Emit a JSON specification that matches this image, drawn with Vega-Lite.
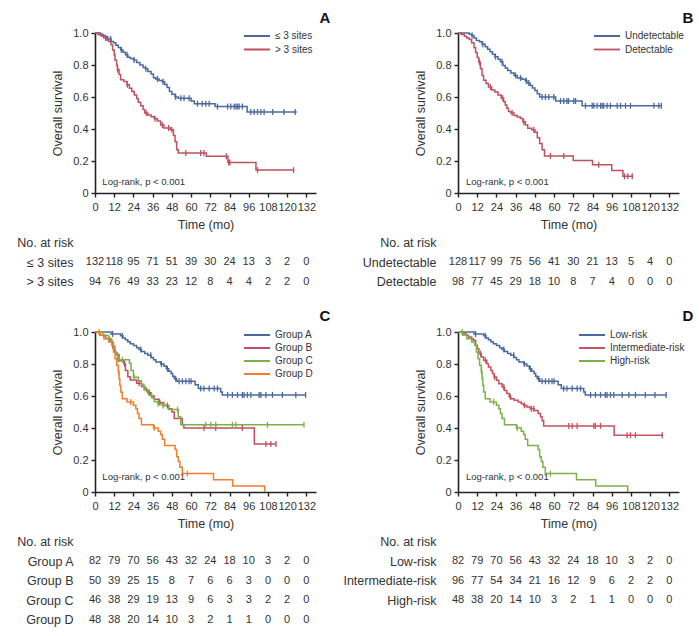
{
"$schema": "https://vega.github.io/schema/vega-lite/v6.json",
"padding": {"left": 16, "top": 10, "right": 3, "bottom": 3},
"background": "white",
"config": {
  "view": {"stroke": null},
  "font": "Liberation Sans, Arial, sans-serif",
  "axis": {"labelFont": "Liberation Sans, Arial, sans-serif", "titleFont": "Liberation Sans, Arial, sans-serif", "labelColor": "#333", "titleColor": "#333", "titleFontWeight": "normal", "domainColor": "#222", "domainWidth": 1.6, "tickColor": "#222", "tickWidth": 1.4, "tickSize": 4, "grid": false, "labelFontSize": 11, "titleFontSize": 12.5},
  "legend": {"labelFont": "Liberation Sans, Arial, sans-serif", "labelFontSize": 10, "labelColor": "#333"},
  "text": {"font": "Liberation Sans, Arial, sans-serif", "color": "#333"}
},
"datasets": {
"steps": [
{"p":"A","g":"≤ 3 sites","t":0,"s":1},{"p":"A","g":"≤ 3 sites","t":3.5,"s":0.992},{"p":"A","g":"≤ 3 sites","t":5,"s":0.985},{"p":"A","g":"≤ 3 sites","t":6.5,"s":0.977},{"p":"A","g":"≤ 3 sites","t":8,"s":0.962},{"p":"A","g":"≤ 3 sites","t":10,"s":0.947},{"p":"A","g":"≤ 3 sites","t":11.5,"s":0.939},{"p":"A","g":"≤ 3 sites","t":13,"s":0.924},{"p":"A","g":"≤ 3 sites","t":14.5,"s":0.909},{"p":"A","g":"≤ 3 sites","t":16,"s":0.894},{"p":"A","g":"≤ 3 sites","t":17.5,"s":0.879},{"p":"A","g":"≤ 3 sites","t":19,"s":0.864},{"p":"A","g":"≤ 3 sites","t":20.5,"s":0.848},{"p":"A","g":"≤ 3 sites","t":22,"s":0.84},{"p":"A","g":"≤ 3 sites","t":24,"s":0.832},{"p":"A","g":"≤ 3 sites","t":26,"s":0.816},{"p":"A","g":"≤ 3 sites","t":28,"s":0.8},{"p":"A","g":"≤ 3 sites","t":30,"s":0.784},{"p":"A","g":"≤ 3 sites","t":31.5,"s":0.776},{"p":"A","g":"≤ 3 sites","t":33,"s":0.76},{"p":"A","g":"≤ 3 sites","t":35,"s":0.744},{"p":"A","g":"≤ 3 sites","t":36.5,"s":0.72},{"p":"A","g":"≤ 3 sites","t":38,"s":0.712},{"p":"A","g":"≤ 3 sites","t":40,"s":0.703},{"p":"A","g":"≤ 3 sites","t":42,"s":0.695},{"p":"A","g":"≤ 3 sites","t":43.5,"s":0.678},{"p":"A","g":"≤ 3 sites","t":45,"s":0.66},{"p":"A","g":"≤ 3 sites","t":46.5,"s":0.635},{"p":"A","g":"≤ 3 sites","t":48,"s":0.617},{"p":"A","g":"≤ 3 sites","t":50,"s":0.6},{"p":"A","g":"≤ 3 sites","t":52,"s":0.592},{"p":"A","g":"≤ 3 sites","t":60,"s":0.575},{"p":"A","g":"≤ 3 sites","t":62,"s":0.558},{"p":"A","g":"≤ 3 sites","t":75,"s":0.54},{"p":"A","g":"≤ 3 sites","t":95,"s":0.507},{"p":"A","g":"≤ 3 sites","t":126,"s":0.507},
{"p":"A","g":"> 3 sites","t":0,"s":1},{"p":"A","g":"> 3 sites","t":2,"s":0.989},{"p":"A","g":"> 3 sites","t":4,"s":0.979},{"p":"A","g":"> 3 sites","t":5.5,"s":0.968},{"p":"A","g":"> 3 sites","t":7,"s":0.957},{"p":"A","g":"> 3 sites","t":8.5,"s":0.947},{"p":"A","g":"> 3 sites","t":10,"s":0.926},{"p":"A","g":"> 3 sites","t":11,"s":0.894},{"p":"A","g":"> 3 sites","t":12,"s":0.862},{"p":"A","g":"> 3 sites","t":12.5,"s":0.83},{"p":"A","g":"> 3 sites","t":13.5,"s":0.8},{"p":"A","g":"> 3 sites","t":14,"s":0.77},{"p":"A","g":"> 3 sites","t":15,"s":0.74},{"p":"A","g":"> 3 sites","t":16,"s":0.708},{"p":"A","g":"> 3 sites","t":18,"s":0.697},{"p":"A","g":"> 3 sites","t":20,"s":0.676},{"p":"A","g":"> 3 sites","t":21.5,"s":0.655},{"p":"A","g":"> 3 sites","t":23,"s":0.634},{"p":"A","g":"> 3 sites","t":24.5,"s":0.613},{"p":"A","g":"> 3 sites","t":26,"s":0.59},{"p":"A","g":"> 3 sites","t":27,"s":0.567},{"p":"A","g":"> 3 sites","t":28.5,"s":0.545},{"p":"A","g":"> 3 sites","t":30,"s":0.522},{"p":"A","g":"> 3 sites","t":31,"s":0.5},{"p":"A","g":"> 3 sites","t":33,"s":0.488},{"p":"A","g":"> 3 sites","t":35,"s":0.476},{"p":"A","g":"> 3 sites","t":37,"s":0.464},{"p":"A","g":"> 3 sites","t":39,"s":0.45},{"p":"A","g":"> 3 sites","t":41,"s":0.425},{"p":"A","g":"> 3 sites","t":43,"s":0.406},{"p":"A","g":"> 3 sites","t":47,"s":0.395},{"p":"A","g":"> 3 sites","t":49,"s":0.36},{"p":"A","g":"> 3 sites","t":50,"s":0.32},{"p":"A","g":"> 3 sites","t":51,"s":0.27},{"p":"A","g":"> 3 sites","t":52,"s":0.25},{"p":"A","g":"> 3 sites","t":69.5,"s":0.23},{"p":"A","g":"> 3 sites","t":83,"s":0.19},{"p":"A","g":"> 3 sites","t":100.5,"s":0.143},{"p":"A","g":"> 3 sites","t":124,"s":0.143},
{"p":"B","g":"Undetectable","t":0,"s":1},{"p":"B","g":"Undetectable","t":7,"s":0.992},{"p":"B","g":"Undetectable","t":8.5,"s":0.984},{"p":"B","g":"Undetectable","t":10,"s":0.969},{"p":"B","g":"Undetectable","t":11.5,"s":0.953},{"p":"B","g":"Undetectable","t":13.5,"s":0.945},{"p":"B","g":"Undetectable","t":15,"s":0.93},{"p":"B","g":"Undetectable","t":17,"s":0.914},{"p":"B","g":"Undetectable","t":18.5,"s":0.898},{"p":"B","g":"Undetectable","t":20,"s":0.883},{"p":"B","g":"Undetectable","t":21.5,"s":0.867},{"p":"B","g":"Undetectable","t":23,"s":0.852},{"p":"B","g":"Undetectable","t":25,"s":0.836},{"p":"B","g":"Undetectable","t":26.5,"s":0.82},{"p":"B","g":"Undetectable","t":28,"s":0.797},{"p":"B","g":"Undetectable","t":29.5,"s":0.781},{"p":"B","g":"Undetectable","t":31,"s":0.766},{"p":"B","g":"Undetectable","t":33,"s":0.75},{"p":"B","g":"Undetectable","t":35,"s":0.735},{"p":"B","g":"Undetectable","t":37,"s":0.719},{"p":"B","g":"Undetectable","t":40,"s":0.711},{"p":"B","g":"Undetectable","t":42,"s":0.703},{"p":"B","g":"Undetectable","t":43,"s":0.688},{"p":"B","g":"Undetectable","t":45,"s":0.672},{"p":"B","g":"Undetectable","t":46.5,"s":0.656},{"p":"B","g":"Undetectable","t":48,"s":0.64},{"p":"B","g":"Undetectable","t":49.5,"s":0.62},{"p":"B","g":"Undetectable","t":51,"s":0.6},{"p":"B","g":"Undetectable","t":61,"s":0.575},{"p":"B","g":"Undetectable","t":77.5,"s":0.545},{"p":"B","g":"Undetectable","t":127,"s":0.545},
{"p":"B","g":"Detectable","t":0,"s":1},{"p":"B","g":"Detectable","t":2,"s":0.99},{"p":"B","g":"Detectable","t":4,"s":0.98},{"p":"B","g":"Detectable","t":5.5,"s":0.969},{"p":"B","g":"Detectable","t":7,"s":0.959},{"p":"B","g":"Detectable","t":8.5,"s":0.939},{"p":"B","g":"Detectable","t":10,"s":0.908},{"p":"B","g":"Detectable","t":11,"s":0.878},{"p":"B","g":"Detectable","t":12,"s":0.847},{"p":"B","g":"Detectable","t":13,"s":0.816},{"p":"B","g":"Detectable","t":14,"s":0.776},{"p":"B","g":"Detectable","t":15,"s":0.735},{"p":"B","g":"Detectable","t":16,"s":0.704},{"p":"B","g":"Detectable","t":17.5,"s":0.684},{"p":"B","g":"Detectable","t":19,"s":0.663},{"p":"B","g":"Detectable","t":21,"s":0.643},{"p":"B","g":"Detectable","t":23,"s":0.632},{"p":"B","g":"Detectable","t":25,"s":0.612},{"p":"B","g":"Detectable","t":27,"s":0.592},{"p":"B","g":"Detectable","t":28.5,"s":0.571},{"p":"B","g":"Detectable","t":29.5,"s":0.55},{"p":"B","g":"Detectable","t":30.5,"s":0.53},{"p":"B","g":"Detectable","t":31.5,"s":0.51},{"p":"B","g":"Detectable","t":33,"s":0.5},{"p":"B","g":"Detectable","t":35,"s":0.485},{"p":"B","g":"Detectable","t":37,"s":0.475},{"p":"B","g":"Detectable","t":39,"s":0.465},{"p":"B","g":"Detectable","t":40.5,"s":0.445},{"p":"B","g":"Detectable","t":42,"s":0.425},{"p":"B","g":"Detectable","t":43.5,"s":0.405},{"p":"B","g":"Detectable","t":46,"s":0.395},{"p":"B","g":"Detectable","t":48,"s":0.38},{"p":"B","g":"Detectable","t":49.5,"s":0.345},{"p":"B","g":"Detectable","t":51,"s":0.31},{"p":"B","g":"Detectable","t":52.5,"s":0.27},{"p":"B","g":"Detectable","t":54,"s":0.232},{"p":"B","g":"Detectable","t":72,"s":0.203},{"p":"B","g":"Detectable","t":84,"s":0.176},{"p":"B","g":"Detectable","t":96,"s":0.141},{"p":"B","g":"Detectable","t":103,"s":0.104},{"p":"B","g":"Detectable","t":109,"s":0.104},
{"p":"C","g":"Group A","t":0,"s":1},{"p":"C","g":"Group A","t":10,"s":0.988},{"p":"C","g":"Group A","t":16,"s":0.976},{"p":"C","g":"Group A","t":17.5,"s":0.963},{"p":"C","g":"Group A","t":19,"s":0.951},{"p":"C","g":"Group A","t":20.5,"s":0.939},{"p":"C","g":"Group A","t":22,"s":0.927},{"p":"C","g":"Group A","t":24,"s":0.915},{"p":"C","g":"Group A","t":26,"s":0.902},{"p":"C","g":"Group A","t":27.5,"s":0.89},{"p":"C","g":"Group A","t":29,"s":0.878},{"p":"C","g":"Group A","t":31,"s":0.866},{"p":"C","g":"Group A","t":33,"s":0.854},{"p":"C","g":"Group A","t":35,"s":0.841},{"p":"C","g":"Group A","t":36.5,"s":0.826},{"p":"C","g":"Group A","t":38,"s":0.812},{"p":"C","g":"Group A","t":41,"s":0.8},{"p":"C","g":"Group A","t":43,"s":0.787},{"p":"C","g":"Group A","t":44.5,"s":0.77},{"p":"C","g":"Group A","t":46,"s":0.755},{"p":"C","g":"Group A","t":47.5,"s":0.74},{"p":"C","g":"Group A","t":48.5,"s":0.724},{"p":"C","g":"Group A","t":49.5,"s":0.708},{"p":"C","g":"Group A","t":51,"s":0.692},{"p":"C","g":"Group A","t":62.5,"s":0.67},{"p":"C","g":"Group A","t":64.5,"s":0.647},{"p":"C","g":"Group A","t":78.5,"s":0.625},{"p":"C","g":"Group A","t":79.5,"s":0.607},{"p":"C","g":"Group A","t":131.5,"s":0.607},
{"p":"C","g":"Group B","t":0,"s":1},{"p":"C","g":"Group B","t":3,"s":0.98},{"p":"C","g":"Group B","t":6.5,"s":0.96},{"p":"C","g":"Group B","t":9.5,"s":0.94},{"p":"C","g":"Group B","t":11,"s":0.9},{"p":"C","g":"Group B","t":12,"s":0.88},{"p":"C","g":"Group B","t":13,"s":0.86},{"p":"C","g":"Group B","t":15,"s":0.82},{"p":"C","g":"Group B","t":18,"s":0.8},{"p":"C","g":"Group B","t":19,"s":0.76},{"p":"C","g":"Group B","t":20.5,"s":0.72},{"p":"C","g":"Group B","t":22,"s":0.7},{"p":"C","g":"Group B","t":26,"s":0.68},{"p":"C","g":"Group B","t":29,"s":0.66},{"p":"C","g":"Group B","t":31,"s":0.64},{"p":"C","g":"Group B","t":33,"s":0.62},{"p":"C","g":"Group B","t":35,"s":0.6},{"p":"C","g":"Group B","t":37,"s":0.58},{"p":"C","g":"Group B","t":40,"s":0.56},{"p":"C","g":"Group B","t":43,"s":0.54},{"p":"C","g":"Group B","t":46,"s":0.52},{"p":"C","g":"Group B","t":48,"s":0.5},{"p":"C","g":"Group B","t":49.5,"s":0.46},{"p":"C","g":"Group B","t":54.5,"s":0.42},{"p":"C","g":"Group B","t":55.5,"s":0.4},{"p":"C","g":"Group B","t":99.5,"s":0.3},{"p":"C","g":"Group B","t":113,"s":0.3},
{"p":"C","g":"Group C","t":0,"s":1},{"p":"C","g":"Group C","t":5,"s":0.978},{"p":"C","g":"Group C","t":8.5,"s":0.957},{"p":"C","g":"Group C","t":10.5,"s":0.935},{"p":"C","g":"Group C","t":11.5,"s":0.913},{"p":"C","g":"Group C","t":12.5,"s":0.87},{"p":"C","g":"Group C","t":14,"s":0.826},{"p":"C","g":"Group C","t":21.5,"s":0.804},{"p":"C","g":"Group C","t":22.5,"s":0.76},{"p":"C","g":"Group C","t":24,"s":0.717},{"p":"C","g":"Group C","t":27,"s":0.696},{"p":"C","g":"Group C","t":29,"s":0.674},{"p":"C","g":"Group C","t":30.5,"s":0.652},{"p":"C","g":"Group C","t":32,"s":0.63},{"p":"C","g":"Group C","t":33.5,"s":0.609},{"p":"C","g":"Group C","t":35.5,"s":0.587},{"p":"C","g":"Group C","t":37,"s":0.565},{"p":"C","g":"Group C","t":39,"s":0.553},{"p":"C","g":"Group C","t":42,"s":0.54},{"p":"C","g":"Group C","t":46,"s":0.515},{"p":"C","g":"Group C","t":52,"s":0.47},{"p":"C","g":"Group C","t":53.5,"s":0.42},{"p":"C","g":"Group C","t":130.5,"s":0.42},
{"p":"C","g":"Group D","t":0,"s":1},{"p":"C","g":"Group D","t":3,"s":0.979},{"p":"C","g":"Group D","t":5.5,"s":0.958},{"p":"C","g":"Group D","t":8.5,"s":0.938},{"p":"C","g":"Group D","t":10.5,"s":0.917},{"p":"C","g":"Group D","t":11.5,"s":0.875},{"p":"C","g":"Group D","t":12.5,"s":0.833},{"p":"C","g":"Group D","t":13.5,"s":0.792},{"p":"C","g":"Group D","t":14.5,"s":0.75},{"p":"C","g":"Group D","t":15,"s":0.708},{"p":"C","g":"Group D","t":15.5,"s":0.667},{"p":"C","g":"Group D","t":16,"s":0.625},{"p":"C","g":"Group D","t":17,"s":0.583},{"p":"C","g":"Group D","t":20,"s":0.563},{"p":"C","g":"Group D","t":24,"s":0.542},{"p":"C","g":"Group D","t":25.5,"s":0.52},{"p":"C","g":"Group D","t":26.5,"s":0.49},{"p":"C","g":"Group D","t":27.5,"s":0.46},{"p":"C","g":"Group D","t":29,"s":0.42},{"p":"C","g":"Group D","t":36.5,"s":0.4},{"p":"C","g":"Group D","t":39.5,"s":0.38},{"p":"C","g":"Group D","t":41,"s":0.36},{"p":"C","g":"Group D","t":42,"s":0.33},{"p":"C","g":"Group D","t":43.5,"s":0.29},{"p":"C","g":"Group D","t":50,"s":0.265},{"p":"C","g":"Group D","t":51,"s":0.22},{"p":"C","g":"Group D","t":52,"s":0.19},{"p":"C","g":"Group D","t":53,"s":0.155},{"p":"C","g":"Group D","t":54.5,"s":0.115},{"p":"C","g":"Group D","t":74,"s":0.077},{"p":"C","g":"Group D","t":86,"s":0.038},{"p":"C","g":"Group D","t":106,"s":0},
{"p":"D","g":"Low-risk","t":0,"s":1},{"p":"D","g":"Low-risk","t":10,"s":0.988},{"p":"D","g":"Low-risk","t":16,"s":0.976},{"p":"D","g":"Low-risk","t":17.5,"s":0.963},{"p":"D","g":"Low-risk","t":19,"s":0.951},{"p":"D","g":"Low-risk","t":20.5,"s":0.939},{"p":"D","g":"Low-risk","t":22,"s":0.927},{"p":"D","g":"Low-risk","t":24,"s":0.915},{"p":"D","g":"Low-risk","t":26,"s":0.902},{"p":"D","g":"Low-risk","t":27.5,"s":0.89},{"p":"D","g":"Low-risk","t":29,"s":0.878},{"p":"D","g":"Low-risk","t":31,"s":0.866},{"p":"D","g":"Low-risk","t":33,"s":0.854},{"p":"D","g":"Low-risk","t":35,"s":0.841},{"p":"D","g":"Low-risk","t":36.5,"s":0.826},{"p":"D","g":"Low-risk","t":38,"s":0.812},{"p":"D","g":"Low-risk","t":41,"s":0.8},{"p":"D","g":"Low-risk","t":43,"s":0.787},{"p":"D","g":"Low-risk","t":44.5,"s":0.77},{"p":"D","g":"Low-risk","t":46,"s":0.755},{"p":"D","g":"Low-risk","t":47.5,"s":0.74},{"p":"D","g":"Low-risk","t":48.5,"s":0.724},{"p":"D","g":"Low-risk","t":49.5,"s":0.708},{"p":"D","g":"Low-risk","t":51,"s":0.692},{"p":"D","g":"Low-risk","t":62.5,"s":0.67},{"p":"D","g":"Low-risk","t":64.5,"s":0.647},{"p":"D","g":"Low-risk","t":78.5,"s":0.625},{"p":"D","g":"Low-risk","t":79.5,"s":0.607},{"p":"D","g":"Low-risk","t":130,"s":0.607},
{"p":"D","g":"Intermediate-risk","t":0,"s":1},{"p":"D","g":"Intermediate-risk","t":3,"s":0.99},{"p":"D","g":"Intermediate-risk","t":5,"s":0.979},{"p":"D","g":"Intermediate-risk","t":6.5,"s":0.969},{"p":"D","g":"Intermediate-risk","t":8.5,"s":0.958},{"p":"D","g":"Intermediate-risk","t":9.5,"s":0.948},{"p":"D","g":"Intermediate-risk","t":11,"s":0.917},{"p":"D","g":"Intermediate-risk","t":12,"s":0.896},{"p":"D","g":"Intermediate-risk","t":13,"s":0.865},{"p":"D","g":"Intermediate-risk","t":14.5,"s":0.844},{"p":"D","g":"Intermediate-risk","t":16,"s":0.823},{"p":"D","g":"Intermediate-risk","t":18,"s":0.802},{"p":"D","g":"Intermediate-risk","t":19,"s":0.781},{"p":"D","g":"Intermediate-risk","t":20.5,"s":0.76},{"p":"D","g":"Intermediate-risk","t":21.5,"s":0.74},{"p":"D","g":"Intermediate-risk","t":22.5,"s":0.719},{"p":"D","g":"Intermediate-risk","t":24,"s":0.698},{"p":"D","g":"Intermediate-risk","t":25.5,"s":0.677},{"p":"D","g":"Intermediate-risk","t":27.5,"s":0.656},{"p":"D","g":"Intermediate-risk","t":29,"s":0.635},{"p":"D","g":"Intermediate-risk","t":30.5,"s":0.615},{"p":"D","g":"Intermediate-risk","t":32,"s":0.594},{"p":"D","g":"Intermediate-risk","t":33,"s":0.583},{"p":"D","g":"Intermediate-risk","t":35,"s":0.573},{"p":"D","g":"Intermediate-risk","t":37.5,"s":0.562},{"p":"D","g":"Intermediate-risk","t":39.5,"s":0.552},{"p":"D","g":"Intermediate-risk","t":41,"s":0.541},{"p":"D","g":"Intermediate-risk","t":43,"s":0.531},{"p":"D","g":"Intermediate-risk","t":45,"s":0.521},{"p":"D","g":"Intermediate-risk","t":47.5,"s":0.51},{"p":"D","g":"Intermediate-risk","t":50,"s":0.49},{"p":"D","g":"Intermediate-risk","t":51.5,"s":0.47},{"p":"D","g":"Intermediate-risk","t":52.5,"s":0.445},{"p":"D","g":"Intermediate-risk","t":53.5,"s":0.413},{"p":"D","g":"Intermediate-risk","t":97.5,"s":0.355},{"p":"D","g":"Intermediate-risk","t":128,"s":0.355},
{"p":"D","g":"High-risk","t":0,"s":1},{"p":"D","g":"High-risk","t":3,"s":0.979},{"p":"D","g":"High-risk","t":5.5,"s":0.958},{"p":"D","g":"High-risk","t":8.5,"s":0.938},{"p":"D","g":"High-risk","t":10.5,"s":0.917},{"p":"D","g":"High-risk","t":11.5,"s":0.875},{"p":"D","g":"High-risk","t":12.5,"s":0.833},{"p":"D","g":"High-risk","t":13.5,"s":0.792},{"p":"D","g":"High-risk","t":14.5,"s":0.75},{"p":"D","g":"High-risk","t":15,"s":0.708},{"p":"D","g":"High-risk","t":15.5,"s":0.667},{"p":"D","g":"High-risk","t":16,"s":0.625},{"p":"D","g":"High-risk","t":17,"s":0.583},{"p":"D","g":"High-risk","t":20,"s":0.563},{"p":"D","g":"High-risk","t":24,"s":0.542},{"p":"D","g":"High-risk","t":25.5,"s":0.52},{"p":"D","g":"High-risk","t":26.5,"s":0.49},{"p":"D","g":"High-risk","t":27.5,"s":0.46},{"p":"D","g":"High-risk","t":29,"s":0.42},{"p":"D","g":"High-risk","t":36.5,"s":0.4},{"p":"D","g":"High-risk","t":39.5,"s":0.38},{"p":"D","g":"High-risk","t":41,"s":0.36},{"p":"D","g":"High-risk","t":42,"s":0.33},{"p":"D","g":"High-risk","t":43.5,"s":0.29},{"p":"D","g":"High-risk","t":50,"s":0.265},{"p":"D","g":"High-risk","t":51,"s":0.22},{"p":"D","g":"High-risk","t":52,"s":0.19},{"p":"D","g":"High-risk","t":53,"s":0.155},{"p":"D","g":"High-risk","t":54.5,"s":0.115},{"p":"D","g":"High-risk","t":74,"s":0.077},{"p":"D","g":"High-risk","t":86,"s":0.038},{"p":"D","g":"High-risk","t":106,"s":0}
],
"cens": [
{"p":"A","g":"≤ 3 sites","t":9.8,"s":0.962},{"p":"A","g":"≤ 3 sites","t":16.5,"s":0.894},{"p":"A","g":"≤ 3 sites","t":20,"s":0.864},{"p":"A","g":"≤ 3 sites","t":24.4,"s":0.832},{"p":"A","g":"≤ 3 sites","t":31.7,"s":0.776},{"p":"A","g":"≤ 3 sites","t":39,"s":0.712},{"p":"A","g":"≤ 3 sites","t":42.5,"s":0.695},{"p":"A","g":"≤ 3 sites","t":50.4,"s":0.6},{"p":"A","g":"≤ 3 sites","t":53.6,"s":0.592},{"p":"A","g":"≤ 3 sites","t":55.6,"s":0.592},{"p":"A","g":"≤ 3 sites","t":58.7,"s":0.592},{"p":"A","g":"≤ 3 sites","t":64,"s":0.558},{"p":"A","g":"≤ 3 sites","t":67,"s":0.558},{"p":"A","g":"≤ 3 sites","t":69.2,"s":0.558},{"p":"A","g":"≤ 3 sites","t":71.3,"s":0.558},{"p":"A","g":"≤ 3 sites","t":76.5,"s":0.54},{"p":"A","g":"≤ 3 sites","t":82.8,"s":0.54},{"p":"A","g":"≤ 3 sites","t":84.8,"s":0.54},{"p":"A","g":"≤ 3 sites","t":86.9,"s":0.54},{"p":"A","g":"≤ 3 sites","t":88,"s":0.54},{"p":"A","g":"≤ 3 sites","t":89,"s":0.54},{"p":"A","g":"≤ 3 sites","t":90,"s":0.54},{"p":"A","g":"≤ 3 sites","t":92,"s":0.54},{"p":"A","g":"≤ 3 sites","t":97.3,"s":0.507},{"p":"A","g":"≤ 3 sites","t":99.4,"s":0.507},{"p":"A","g":"≤ 3 sites","t":101.5,"s":0.507},{"p":"A","g":"≤ 3 sites","t":103.6,"s":0.507},{"p":"A","g":"≤ 3 sites","t":105.6,"s":0.507},{"p":"A","g":"≤ 3 sites","t":111,"s":0.507},{"p":"A","g":"≤ 3 sites","t":118,"s":0.507},{"p":"A","g":"≤ 3 sites","t":125,"s":0.507},
{"p":"A","g":"> 3 sites","t":6.7,"s":0.968},{"p":"A","g":"> 3 sites","t":14.2,"s":0.77},{"p":"A","g":"> 3 sites","t":20.2,"s":0.676},{"p":"A","g":"> 3 sites","t":32,"s":0.5},{"p":"A","g":"> 3 sites","t":37.5,"s":0.464},{"p":"A","g":"> 3 sites","t":42,"s":0.425},{"p":"A","g":"> 3 sites","t":46,"s":0.406},{"p":"A","g":"> 3 sites","t":48,"s":0.395},{"p":"A","g":"> 3 sites","t":56.7,"s":0.25},{"p":"A","g":"> 3 sites","t":66,"s":0.25},{"p":"A","g":"> 3 sites","t":68,"s":0.25},{"p":"A","g":"> 3 sites","t":82,"s":0.23},{"p":"A","g":"> 3 sites","t":83.5,"s":0.19},{"p":"A","g":"> 3 sites","t":84.2,"s":0.19},{"p":"A","g":"> 3 sites","t":101.5,"s":0.143},{"p":"A","g":"> 3 sites","t":124,"s":0.143},
{"p":"B","g":"Undetectable","t":8.8,"s":0.984},{"p":"B","g":"Undetectable","t":15.5,"s":0.93},{"p":"B","g":"Undetectable","t":23.4,"s":0.852},{"p":"B","g":"Undetectable","t":27.5,"s":0.82},{"p":"B","g":"Undetectable","t":35.9,"s":0.735},{"p":"B","g":"Undetectable","t":39,"s":0.719},{"p":"B","g":"Undetectable","t":42.5,"s":0.703},{"p":"B","g":"Undetectable","t":44.2,"s":0.688},{"p":"B","g":"Undetectable","t":52.5,"s":0.6},{"p":"B","g":"Undetectable","t":54.6,"s":0.6},{"p":"B","g":"Undetectable","t":56.7,"s":0.6},{"p":"B","g":"Undetectable","t":59.8,"s":0.6},{"p":"B","g":"Undetectable","t":64,"s":0.575},{"p":"B","g":"Undetectable","t":66,"s":0.575},{"p":"B","g":"Undetectable","t":68,"s":0.575},{"p":"B","g":"Undetectable","t":69,"s":0.575},{"p":"B","g":"Undetectable","t":72.3,"s":0.575},{"p":"B","g":"Undetectable","t":73.4,"s":0.575},{"p":"B","g":"Undetectable","t":79.6,"s":0.545},{"p":"B","g":"Undetectable","t":83.8,"s":0.545},{"p":"B","g":"Undetectable","t":84.8,"s":0.545},{"p":"B","g":"Undetectable","t":86.9,"s":0.545},{"p":"B","g":"Undetectable","t":89,"s":0.545},{"p":"B","g":"Undetectable","t":90,"s":0.545},{"p":"B","g":"Undetectable","t":91,"s":0.545},{"p":"B","g":"Undetectable","t":93.1,"s":0.545},{"p":"B","g":"Undetectable","t":95.2,"s":0.545},{"p":"B","g":"Undetectable","t":99.4,"s":0.545},{"p":"B","g":"Undetectable","t":101.5,"s":0.545},{"p":"B","g":"Undetectable","t":104.6,"s":0.545},{"p":"B","g":"Undetectable","t":107.7,"s":0.545},{"p":"B","g":"Undetectable","t":122.3,"s":0.545},{"p":"B","g":"Undetectable","t":125.4,"s":0.545},{"p":"B","g":"Undetectable","t":127,"s":0.545},
{"p":"B","g":"Detectable","t":13.5,"s":0.816},{"p":"B","g":"Detectable","t":20.2,"s":0.663},{"p":"B","g":"Detectable","t":28,"s":0.592},{"p":"B","g":"Detectable","t":33.8,"s":0.5},{"p":"B","g":"Detectable","t":41,"s":0.445},{"p":"B","g":"Detectable","t":47.3,"s":0.395},{"p":"B","g":"Detectable","t":57.7,"s":0.232},{"p":"B","g":"Detectable","t":66,"s":0.232},{"p":"B","g":"Detectable","t":87.9,"s":0.176},{"p":"B","g":"Detectable","t":104,"s":0.104},{"p":"B","g":"Detectable","t":106,"s":0.104},{"p":"B","g":"Detectable","t":108.8,"s":0.104},
{"p":"C","g":"Group A","t":11,"s":0.988},{"p":"C","g":"Group A","t":17,"s":0.976},{"p":"C","g":"Group A","t":28.6,"s":0.89},{"p":"C","g":"Group A","t":34.8,"s":0.854},{"p":"C","g":"Group A","t":41.5,"s":0.8},{"p":"C","g":"Group A","t":45.2,"s":0.77},{"p":"C","g":"Group A","t":50.4,"s":0.708},{"p":"C","g":"Group A","t":52.5,"s":0.692},{"p":"C","g":"Group A","t":54.6,"s":0.692},{"p":"C","g":"Group A","t":56.7,"s":0.692},{"p":"C","g":"Group A","t":58.7,"s":0.692},{"p":"C","g":"Group A","t":60,"s":0.692},{"p":"C","g":"Group A","t":66,"s":0.647},{"p":"C","g":"Group A","t":68,"s":0.647},{"p":"C","g":"Group A","t":71.3,"s":0.647},{"p":"C","g":"Group A","t":74.4,"s":0.647},{"p":"C","g":"Group A","t":76.5,"s":0.647},{"p":"C","g":"Group A","t":82.8,"s":0.607},{"p":"C","g":"Group A","t":85.8,"s":0.607},{"p":"C","g":"Group A","t":89,"s":0.607},{"p":"C","g":"Group A","t":92,"s":0.607},{"p":"C","g":"Group A","t":93.1,"s":0.607},{"p":"C","g":"Group A","t":95.2,"s":0.607},{"p":"C","g":"Group A","t":97.3,"s":0.607},{"p":"C","g":"Group A","t":102.5,"s":0.607},{"p":"C","g":"Group A","t":103.6,"s":0.607},{"p":"C","g":"Group A","t":106.7,"s":0.607},{"p":"C","g":"Group A","t":110.8,"s":0.607},{"p":"C","g":"Group A","t":117,"s":0.607},{"p":"C","g":"Group A","t":125.4,"s":0.607},{"p":"C","g":"Group A","t":131.5,"s":0.607},
{"p":"C","g":"Group B","t":18.5,"s":0.8},{"p":"C","g":"Group B","t":27.5,"s":0.68},{"p":"C","g":"Group B","t":34,"s":0.62},{"p":"C","g":"Group B","t":40.5,"s":0.56},{"p":"C","g":"Group B","t":45.2,"s":0.54},{"p":"C","g":"Group B","t":68,"s":0.4},{"p":"C","g":"Group B","t":75.4,"s":0.4},{"p":"C","g":"Group B","t":92,"s":0.4},{"p":"C","g":"Group B","t":106.7,"s":0.3},{"p":"C","g":"Group B","t":109.8,"s":0.3},{"p":"C","g":"Group B","t":113,"s":0.3},
{"p":"C","g":"Group C","t":8.8,"s":0.957},{"p":"C","g":"Group C","t":14.5,"s":0.826},{"p":"C","g":"Group C","t":17,"s":0.826},{"p":"C","g":"Group C","t":24.4,"s":0.717},{"p":"C","g":"Group C","t":30.6,"s":0.652},{"p":"C","g":"Group C","t":39.5,"s":0.553},{"p":"C","g":"Group C","t":42.5,"s":0.54},{"p":"C","g":"Group C","t":51.5,"s":0.515},{"p":"C","g":"Group C","t":69.2,"s":0.42},{"p":"C","g":"Group C","t":72.3,"s":0.42},{"p":"C","g":"Group C","t":75.4,"s":0.42},{"p":"C","g":"Group C","t":85.8,"s":0.42},{"p":"C","g":"Group C","t":88,"s":0.42},{"p":"C","g":"Group C","t":107.7,"s":0.42},{"p":"C","g":"Group C","t":130.5,"s":0.42},
{"p":"C","g":"Group D","t":2.5,"s":1},{"p":"C","g":"Group D","t":14.8,"s":0.75},{"p":"C","g":"Group D","t":22.3,"s":0.563},{"p":"C","g":"Group D","t":37,"s":0.4},{"p":"C","g":"Group D","t":57.7,"s":0.115},
{"p":"D","g":"Low-risk","t":11,"s":0.988},{"p":"D","g":"Low-risk","t":17,"s":0.976},{"p":"D","g":"Low-risk","t":28.6,"s":0.89},{"p":"D","g":"Low-risk","t":34.8,"s":0.854},{"p":"D","g":"Low-risk","t":41.5,"s":0.8},{"p":"D","g":"Low-risk","t":45.2,"s":0.77},{"p":"D","g":"Low-risk","t":50.4,"s":0.708},{"p":"D","g":"Low-risk","t":52.5,"s":0.692},{"p":"D","g":"Low-risk","t":54.6,"s":0.692},{"p":"D","g":"Low-risk","t":56.7,"s":0.692},{"p":"D","g":"Low-risk","t":58.7,"s":0.692},{"p":"D","g":"Low-risk","t":60,"s":0.692},{"p":"D","g":"Low-risk","t":66,"s":0.647},{"p":"D","g":"Low-risk","t":68,"s":0.647},{"p":"D","g":"Low-risk","t":71.3,"s":0.647},{"p":"D","g":"Low-risk","t":74.4,"s":0.647},{"p":"D","g":"Low-risk","t":76.5,"s":0.647},{"p":"D","g":"Low-risk","t":82.8,"s":0.607},{"p":"D","g":"Low-risk","t":85.8,"s":0.607},{"p":"D","g":"Low-risk","t":89,"s":0.607},{"p":"D","g":"Low-risk","t":92,"s":0.607},{"p":"D","g":"Low-risk","t":93.1,"s":0.607},{"p":"D","g":"Low-risk","t":95.2,"s":0.607},{"p":"D","g":"Low-risk","t":97.3,"s":0.607},{"p":"D","g":"Low-risk","t":102.5,"s":0.607},{"p":"D","g":"Low-risk","t":106.7,"s":0.607},{"p":"D","g":"Low-risk","t":110.8,"s":0.607},{"p":"D","g":"Low-risk","t":117,"s":0.607},{"p":"D","g":"Low-risk","t":123,"s":0.607},{"p":"D","g":"Low-risk","t":130,"s":0.607},
{"p":"D","g":"Intermediate-risk","t":14,"s":0.865},{"p":"D","g":"Intermediate-risk","t":17.1,"s":0.823},{"p":"D","g":"Intermediate-risk","t":22.8,"s":0.719},{"p":"D","g":"Intermediate-risk","t":28.6,"s":0.656},{"p":"D","g":"Intermediate-risk","t":32.7,"s":0.594},{"p":"D","g":"Intermediate-risk","t":41.5,"s":0.541},{"p":"D","g":"Intermediate-risk","t":45.8,"s":0.521},{"p":"D","g":"Intermediate-risk","t":47.3,"s":0.521},{"p":"D","g":"Intermediate-risk","t":69.2,"s":0.413},{"p":"D","g":"Intermediate-risk","t":71.3,"s":0.413},{"p":"D","g":"Intermediate-risk","t":74.4,"s":0.413},{"p":"D","g":"Intermediate-risk","t":84.8,"s":0.413},{"p":"D","g":"Intermediate-risk","t":85.8,"s":0.413},{"p":"D","g":"Intermediate-risk","t":89,"s":0.413},{"p":"D","g":"Intermediate-risk","t":105.6,"s":0.355},{"p":"D","g":"Intermediate-risk","t":107.7,"s":0.355},{"p":"D","g":"Intermediate-risk","t":110.8,"s":0.355},{"p":"D","g":"Intermediate-risk","t":127.5,"s":0.355},
{"p":"D","g":"High-risk","t":2.5,"s":1},{"p":"D","g":"High-risk","t":14.8,"s":0.75},{"p":"D","g":"High-risk","t":22.3,"s":0.563},{"p":"D","g":"High-risk","t":37,"s":0.4},{"p":"D","g":"High-risk","t":57.7,"s":0.115}
],
"risk": [
{"p":"A","g":"≤ 3 sites","t":0,"n":132},{"p":"A","g":"≤ 3 sites","t":12,"n":118},{"p":"A","g":"≤ 3 sites","t":24,"n":95},{"p":"A","g":"≤ 3 sites","t":36,"n":71},{"p":"A","g":"≤ 3 sites","t":48,"n":51},{"p":"A","g":"≤ 3 sites","t":60,"n":39},{"p":"A","g":"≤ 3 sites","t":72,"n":30},{"p":"A","g":"≤ 3 sites","t":84,"n":24},{"p":"A","g":"≤ 3 sites","t":96,"n":13},{"p":"A","g":"≤ 3 sites","t":108,"n":3},{"p":"A","g":"≤ 3 sites","t":120,"n":2},{"p":"A","g":"≤ 3 sites","t":132,"n":0},
{"p":"A","g":"> 3 sites","t":0,"n":94},{"p":"A","g":"> 3 sites","t":12,"n":76},{"p":"A","g":"> 3 sites","t":24,"n":49},{"p":"A","g":"> 3 sites","t":36,"n":33},{"p":"A","g":"> 3 sites","t":48,"n":23},{"p":"A","g":"> 3 sites","t":60,"n":12},{"p":"A","g":"> 3 sites","t":72,"n":8},{"p":"A","g":"> 3 sites","t":84,"n":4},{"p":"A","g":"> 3 sites","t":96,"n":4},{"p":"A","g":"> 3 sites","t":108,"n":2},{"p":"A","g":"> 3 sites","t":120,"n":2},{"p":"A","g":"> 3 sites","t":132,"n":0},
{"p":"B","g":"Undetectable","t":0,"n":128},{"p":"B","g":"Undetectable","t":12,"n":117},{"p":"B","g":"Undetectable","t":24,"n":99},{"p":"B","g":"Undetectable","t":36,"n":75},{"p":"B","g":"Undetectable","t":48,"n":56},{"p":"B","g":"Undetectable","t":60,"n":41},{"p":"B","g":"Undetectable","t":72,"n":30},{"p":"B","g":"Undetectable","t":84,"n":21},{"p":"B","g":"Undetectable","t":96,"n":13},{"p":"B","g":"Undetectable","t":108,"n":5},{"p":"B","g":"Undetectable","t":120,"n":4},{"p":"B","g":"Undetectable","t":132,"n":0},
{"p":"B","g":"Detectable","t":0,"n":98},{"p":"B","g":"Detectable","t":12,"n":77},{"p":"B","g":"Detectable","t":24,"n":45},{"p":"B","g":"Detectable","t":36,"n":29},{"p":"B","g":"Detectable","t":48,"n":18},{"p":"B","g":"Detectable","t":60,"n":10},{"p":"B","g":"Detectable","t":72,"n":8},{"p":"B","g":"Detectable","t":84,"n":7},{"p":"B","g":"Detectable","t":96,"n":4},{"p":"B","g":"Detectable","t":108,"n":0},{"p":"B","g":"Detectable","t":120,"n":0},{"p":"B","g":"Detectable","t":132,"n":0},
{"p":"C","g":"Group A","t":0,"n":82},{"p":"C","g":"Group A","t":12,"n":79},{"p":"C","g":"Group A","t":24,"n":70},{"p":"C","g":"Group A","t":36,"n":56},{"p":"C","g":"Group A","t":48,"n":43},{"p":"C","g":"Group A","t":60,"n":32},{"p":"C","g":"Group A","t":72,"n":24},{"p":"C","g":"Group A","t":84,"n":18},{"p":"C","g":"Group A","t":96,"n":10},{"p":"C","g":"Group A","t":108,"n":3},{"p":"C","g":"Group A","t":120,"n":2},{"p":"C","g":"Group A","t":132,"n":0},
{"p":"C","g":"Group B","t":0,"n":50},{"p":"C","g":"Group B","t":12,"n":39},{"p":"C","g":"Group B","t":24,"n":25},{"p":"C","g":"Group B","t":36,"n":15},{"p":"C","g":"Group B","t":48,"n":8},{"p":"C","g":"Group B","t":60,"n":7},{"p":"C","g":"Group B","t":72,"n":6},{"p":"C","g":"Group B","t":84,"n":6},{"p":"C","g":"Group B","t":96,"n":3},{"p":"C","g":"Group B","t":108,"n":0},{"p":"C","g":"Group B","t":120,"n":0},{"p":"C","g":"Group B","t":132,"n":0},
{"p":"C","g":"Group C","t":0,"n":46},{"p":"C","g":"Group C","t":12,"n":38},{"p":"C","g":"Group C","t":24,"n":29},{"p":"C","g":"Group C","t":36,"n":19},{"p":"C","g":"Group C","t":48,"n":13},{"p":"C","g":"Group C","t":60,"n":9},{"p":"C","g":"Group C","t":72,"n":6},{"p":"C","g":"Group C","t":84,"n":3},{"p":"C","g":"Group C","t":96,"n":3},{"p":"C","g":"Group C","t":108,"n":2},{"p":"C","g":"Group C","t":120,"n":2},{"p":"C","g":"Group C","t":132,"n":0},
{"p":"C","g":"Group D","t":0,"n":48},{"p":"C","g":"Group D","t":12,"n":38},{"p":"C","g":"Group D","t":24,"n":20},{"p":"C","g":"Group D","t":36,"n":14},{"p":"C","g":"Group D","t":48,"n":10},{"p":"C","g":"Group D","t":60,"n":3},{"p":"C","g":"Group D","t":72,"n":2},{"p":"C","g":"Group D","t":84,"n":1},{"p":"C","g":"Group D","t":96,"n":1},{"p":"C","g":"Group D","t":108,"n":0},{"p":"C","g":"Group D","t":120,"n":0},{"p":"C","g":"Group D","t":132,"n":0},
{"p":"D","g":"Low-risk","t":0,"n":82},{"p":"D","g":"Low-risk","t":12,"n":79},{"p":"D","g":"Low-risk","t":24,"n":70},{"p":"D","g":"Low-risk","t":36,"n":56},{"p":"D","g":"Low-risk","t":48,"n":43},{"p":"D","g":"Low-risk","t":60,"n":32},{"p":"D","g":"Low-risk","t":72,"n":24},{"p":"D","g":"Low-risk","t":84,"n":18},{"p":"D","g":"Low-risk","t":96,"n":10},{"p":"D","g":"Low-risk","t":108,"n":3},{"p":"D","g":"Low-risk","t":120,"n":2},{"p":"D","g":"Low-risk","t":132,"n":0},
{"p":"D","g":"Intermediate-risk","t":0,"n":96},{"p":"D","g":"Intermediate-risk","t":12,"n":77},{"p":"D","g":"Intermediate-risk","t":24,"n":54},{"p":"D","g":"Intermediate-risk","t":36,"n":34},{"p":"D","g":"Intermediate-risk","t":48,"n":21},{"p":"D","g":"Intermediate-risk","t":60,"n":16},{"p":"D","g":"Intermediate-risk","t":72,"n":12},{"p":"D","g":"Intermediate-risk","t":84,"n":9},{"p":"D","g":"Intermediate-risk","t":96,"n":6},{"p":"D","g":"Intermediate-risk","t":108,"n":2},{"p":"D","g":"Intermediate-risk","t":120,"n":2},{"p":"D","g":"Intermediate-risk","t":132,"n":0},
{"p":"D","g":"High-risk","t":0,"n":48},{"p":"D","g":"High-risk","t":12,"n":38},{"p":"D","g":"High-risk","t":24,"n":20},{"p":"D","g":"High-risk","t":36,"n":14},{"p":"D","g":"High-risk","t":48,"n":10},{"p":"D","g":"High-risk","t":60,"n":3},{"p":"D","g":"High-risk","t":72,"n":2},{"p":"D","g":"High-risk","t":84,"n":1},{"p":"D","g":"High-risk","t":96,"n":1},{"p":"D","g":"High-risk","t":108,"n":0},{"p":"D","g":"High-risk","t":120,"n":0},{"p":"D","g":"High-risk","t":132,"n":0}
]
},
"columns": 2,
"spacing": {"row": 40, "column": 142},
"bounds": "flush",
"align": "each",
"resolve": {"scale": {"color": "independent", "x": "independent", "y": "independent"}, "legend": {"color": "independent"}},
"concat": [
{
 "width": 221, "height": 160,
 "layer": [
  {"data": {"name": "steps"}, "transform": [{"filter": "datum.p == 'A'"}], "mark": {"type": "line", "interpolate": "step-after", "strokeWidth": 1.5},
   "encoding": {
    "x": {"field": "t", "type": "quantitative", "scale": {"domain": [0, 138], "nice": false}, "axis": {"values": [0,12,24,36,48,60,72,84,96,108,120,132], "title": "Time (mo)", "labelOverlap": false, "labelFlush": false, "labelPadding": 4, "titlePadding": 6}},
    "y": {"field": "s", "type": "quantitative", "scale": {"domain": [0, 1], "nice": false}, "axis": {"values": [0,0.2,0.4,0.6,0.8,1], "labelOverlap": false, "labelExpr": "datum.value == 0 ? '0' : format(datum.value, '.1f')", "title": "Overall survival", "labelPadding": 3, "titlePadding": 8}},
    "color": {"field": "g", "type": "nominal", "scale": {"domain": ["≤ 3 sites", "> 3 sites"], "range": ["#4b69a0", "#c0505f"]}, "legend": {"title": null, "orient": "none", "legendX": 148, "legendY": -3.5, "symbolType": "stroke", "symbolSize": 676, "symbolStrokeWidth": 1.8, "clipHeight": 13, "rowPadding": 0.5, "labelOffset": 4, "padding": 0}}}},
  {"data": {"name": "cens"}, "transform": [{"filter": "datum.p == 'A'"}], "mark": {"type": "tick", "orient": "vertical", "size": 6, "thickness": 1.3, "opacity": 1},
   "encoding": {
    "x": {"field": "t", "type": "quantitative", "scale": {"domain": [0, 138], "nice": false}, "axis": {"values": [0,12,24,36,48,60,72,84,96,108,120,132], "title": "Time (mo)", "labelOverlap": false, "labelFlush": false, "labelPadding": 4, "titlePadding": 6}},
    "y": {"field": "s", "type": "quantitative", "scale": {"domain": [0, 1], "nice": false}, "axis": {"values": [0,0.2,0.4,0.6,0.8,1], "labelOverlap": false, "labelExpr": "datum.value == 0 ? '0' : format(datum.value, '.1f')", "title": "Overall survival", "labelPadding": 3, "titlePadding": 8}},
    "color": {"field": "g", "type": "nominal", "legend": null}}},
  {"data": {"values": [{}]}, "mark": {"type": "text", "align": "left", "baseline": "middle", "fontSize": 9.5},
   "encoding": {
    "x": {"datum": 4.6, "type": "quantitative", "scale": {"domain": [0, 138], "nice": false}, "axis": {"values": [0,12,24,36,48,60,72,84,96,108,120,132], "title": "Time (mo)", "labelOverlap": false, "labelFlush": false, "labelPadding": 4, "titlePadding": 6}},
    "y": {"datum": 0.07, "type": "quantitative", "scale": {"domain": [0, 1], "nice": false}, "axis": {"values": [0,0.2,0.4,0.6,0.8,1], "labelOverlap": false, "labelExpr": "datum.value == 0 ? '0' : format(datum.value, '.1f')", "title": "Overall survival", "labelPadding": 3, "titlePadding": 8}},
    "text": {"value": "Log-rank, p < 0.001"}}},
  {"data": {"values": [{}]}, "mark": {"type": "text", "align": "center", "baseline": "middle", "fontSize": 15, "fontWeight": "bold", "color": "#111"},
   "encoding": {
    "x": {"datum": 143.6, "type": "quantitative", "scale": {"domain": [0, 138], "nice": false}, "axis": {"values": [0,12,24,36,48,60,72,84,96,108,120,132], "title": "Time (mo)", "labelOverlap": false, "labelFlush": false, "labelPadding": 4, "titlePadding": 6}},
    "y": {"datum": 1.094, "type": "quantitative", "scale": {"domain": [0, 1], "nice": false}, "axis": {"values": [0,0.2,0.4,0.6,0.8,1], "labelOverlap": false, "labelExpr": "datum.value == 0 ? '0' : format(datum.value, '.1f')", "title": "Overall survival", "labelPadding": 3, "titlePadding": 8}},
    "text": {"value": "A"}}}
 ]
},
{
 "width": 221, "height": 160,
 "layer": [
  {"data": {"name": "steps"}, "transform": [{"filter": "datum.p == 'B'"}], "mark": {"type": "line", "interpolate": "step-after", "strokeWidth": 1.5},
   "encoding": {
    "x": {"field": "t", "type": "quantitative", "scale": {"domain": [0, 138], "nice": false}, "axis": {"values": [0,12,24,36,48,60,72,84,96,108,120,132], "title": "Time (mo)", "labelOverlap": false, "labelFlush": false, "labelPadding": 4, "titlePadding": 6}},
    "y": {"field": "s", "type": "quantitative", "scale": {"domain": [0, 1], "nice": false}, "axis": {"values": [0,0.2,0.4,0.6,0.8,1], "labelOverlap": false, "labelExpr": "datum.value == 0 ? '0' : format(datum.value, '.1f')", "title": "Overall survival", "labelPadding": 3, "titlePadding": 8}},
    "color": {"field": "g", "type": "nominal", "scale": {"domain": ["Undetectable", "Detectable"], "range": ["#4b69a0", "#c0505f"]}, "legend": {"title": null, "orient": "none", "legendX": 135, "legendY": -3.5, "symbolType": "stroke", "symbolSize": 676, "symbolStrokeWidth": 1.8, "clipHeight": 13, "rowPadding": 0.5, "labelOffset": 4, "padding": 0}}}},
  {"data": {"name": "cens"}, "transform": [{"filter": "datum.p == 'B'"}], "mark": {"type": "tick", "orient": "vertical", "size": 6, "thickness": 1.3, "opacity": 1},
   "encoding": {
    "x": {"field": "t", "type": "quantitative", "scale": {"domain": [0, 138], "nice": false}, "axis": {"values": [0,12,24,36,48,60,72,84,96,108,120,132], "title": "Time (mo)", "labelOverlap": false, "labelFlush": false, "labelPadding": 4, "titlePadding": 6}},
    "y": {"field": "s", "type": "quantitative", "scale": {"domain": [0, 1], "nice": false}, "axis": {"values": [0,0.2,0.4,0.6,0.8,1], "labelOverlap": false, "labelExpr": "datum.value == 0 ? '0' : format(datum.value, '.1f')", "title": "Overall survival", "labelPadding": 3, "titlePadding": 8}},
    "color": {"field": "g", "type": "nominal", "legend": null}}},
  {"data": {"values": [{}]}, "mark": {"type": "text", "align": "left", "baseline": "middle", "fontSize": 9.5},
   "encoding": {
    "x": {"datum": 5, "type": "quantitative", "scale": {"domain": [0, 138], "nice": false}, "axis": {"values": [0,12,24,36,48,60,72,84,96,108,120,132], "title": "Time (mo)", "labelOverlap": false, "labelFlush": false, "labelPadding": 4, "titlePadding": 6}},
    "y": {"datum": 0.07, "type": "quantitative", "scale": {"domain": [0, 1], "nice": false}, "axis": {"values": [0,0.2,0.4,0.6,0.8,1], "labelOverlap": false, "labelExpr": "datum.value == 0 ? '0' : format(datum.value, '.1f')", "title": "Overall survival", "labelPadding": 3, "titlePadding": 8}},
    "text": {"value": "Log-rank, p < 0.001"}}},
  {"data": {"values": [{}]}, "mark": {"type": "text", "align": "center", "baseline": "middle", "fontSize": 15, "fontWeight": "bold", "color": "#111"},
   "encoding": {
    "x": {"datum": 143.6, "type": "quantitative", "scale": {"domain": [0, 138], "nice": false}, "axis": {"values": [0,12,24,36,48,60,72,84,96,108,120,132], "title": "Time (mo)", "labelOverlap": false, "labelFlush": false, "labelPadding": 4, "titlePadding": 6}},
    "y": {"datum": 1.094, "type": "quantitative", "scale": {"domain": [0, 1], "nice": false}, "axis": {"values": [0,0.2,0.4,0.6,0.8,1], "labelOverlap": false, "labelExpr": "datum.value == 0 ? '0' : format(datum.value, '.1f')", "title": "Overall survival", "labelPadding": 3, "titlePadding": 8}},
    "text": {"value": "B"}}}
 ]
},
{
 "width": 221, "height": {"step": 19.5},
 "data": {"name": "risk"}, "transform": [{"filter": "datum.p == 'A'"}],
 "mark": {"type": "text", "fontSize": 11, "baseline": "middle"},
 "encoding": {
  "x": {"field": "t", "type": "quantitative", "scale": {"domain": [0, 138], "nice": false}, "axis": null},
  "y": {"field": "g", "type": "nominal", "sort": null, "scale": {"domain": ["No. at risk", "≤ 3 sites", "> 3 sites"]}, "axis": {"title": null, "domain": false, "ticks": false, "labelPadding": 22, "labelFontSize": 12.5}},
  "text": {"field": "n", "type": "quantitative"}
 }
},
{
 "width": 221, "height": {"step": 19.5},
 "data": {"name": "risk"}, "transform": [{"filter": "datum.p == 'B'"}],
 "mark": {"type": "text", "fontSize": 11, "baseline": "middle"},
 "encoding": {
  "x": {"field": "t", "type": "quantitative", "scale": {"domain": [0, 138], "nice": false}, "axis": null},
  "y": {"field": "g", "type": "nominal", "sort": null, "scale": {"domain": ["No. at risk", "Undetectable", "Detectable"]}, "axis": {"title": null, "domain": false, "ticks": false, "labelPadding": 22, "labelFontSize": 12.5}},
  "text": {"field": "n", "type": "quantitative"}
 }
},
{
 "width": 221, "height": 160,
 "layer": [
  {"data": {"name": "steps"}, "transform": [{"filter": "datum.p == 'C'"}], "mark": {"type": "line", "interpolate": "step-after", "strokeWidth": 1.5},
   "encoding": {
    "x": {"field": "t", "type": "quantitative", "scale": {"domain": [0, 138], "nice": false}, "axis": {"values": [0,12,24,36,48,60,72,84,96,108,120,132], "title": "Time (mo)", "labelOverlap": false, "labelFlush": false, "labelPadding": 4, "titlePadding": 6}},
    "y": {"field": "s", "type": "quantitative", "scale": {"domain": [0, 1], "nice": false}, "axis": {"values": [0,0.2,0.4,0.6,0.8,1], "labelOverlap": false, "labelExpr": "datum.value == 0 ? '0' : format(datum.value, '.1f')", "title": "Overall survival", "labelPadding": 3, "titlePadding": 8}},
    "color": {"field": "g", "type": "nominal", "scale": {"domain": ["Group A", "Group B", "Group C", "Group D"], "range": ["#4b69a0", "#c0505f", "#7bb14a", "#f47d30"]}, "legend": {"title": null, "orient": "none", "legendX": 148, "legendY": -3.5, "symbolType": "stroke", "symbolSize": 676, "symbolStrokeWidth": 1.8, "clipHeight": 13, "rowPadding": 0, "labelOffset": 4, "padding": 0}}}},
  {"data": {"name": "cens"}, "transform": [{"filter": "datum.p == 'C'"}], "mark": {"type": "tick", "orient": "vertical", "size": 6, "thickness": 1.3, "opacity": 1},
   "encoding": {
    "x": {"field": "t", "type": "quantitative", "scale": {"domain": [0, 138], "nice": false}, "axis": {"values": [0,12,24,36,48,60,72,84,96,108,120,132], "title": "Time (mo)", "labelOverlap": false, "labelFlush": false, "labelPadding": 4, "titlePadding": 6}},
    "y": {"field": "s", "type": "quantitative", "scale": {"domain": [0, 1], "nice": false}, "axis": {"values": [0,0.2,0.4,0.6,0.8,1], "labelOverlap": false, "labelExpr": "datum.value == 0 ? '0' : format(datum.value, '.1f')", "title": "Overall survival", "labelPadding": 3, "titlePadding": 8}},
    "color": {"field": "g", "type": "nominal", "legend": null}}},
  {"data": {"values": [{}]}, "mark": {"type": "text", "align": "left", "baseline": "middle", "fontSize": 9.5},
   "encoding": {
    "x": {"datum": 4.6, "type": "quantitative", "scale": {"domain": [0, 138], "nice": false}, "axis": {"values": [0,12,24,36,48,60,72,84,96,108,120,132], "title": "Time (mo)", "labelOverlap": false, "labelFlush": false, "labelPadding": 4, "titlePadding": 6}},
    "y": {"datum": 0.095, "type": "quantitative", "scale": {"domain": [0, 1], "nice": false}, "axis": {"values": [0,0.2,0.4,0.6,0.8,1], "labelOverlap": false, "labelExpr": "datum.value == 0 ? '0' : format(datum.value, '.1f')", "title": "Overall survival", "labelPadding": 3, "titlePadding": 8}},
    "text": {"value": "Log-rank, p < 0.001"}}},
  {"data": {"values": [{}]}, "mark": {"type": "text", "align": "center", "baseline": "middle", "fontSize": 15, "fontWeight": "bold", "color": "#111"},
   "encoding": {
    "x": {"datum": 143.6, "type": "quantitative", "scale": {"domain": [0, 138], "nice": false}, "axis": {"values": [0,12,24,36,48,60,72,84,96,108,120,132], "title": "Time (mo)", "labelOverlap": false, "labelFlush": false, "labelPadding": 4, "titlePadding": 6}},
    "y": {"datum": 1.1, "type": "quantitative", "scale": {"domain": [0, 1], "nice": false}, "axis": {"values": [0,0.2,0.4,0.6,0.8,1], "labelOverlap": false, "labelExpr": "datum.value == 0 ? '0' : format(datum.value, '.1f')", "title": "Overall survival", "labelPadding": 3, "titlePadding": 8}},
    "text": {"value": "C"}}}
 ]
},
{
 "width": 221, "height": 160,
 "layer": [
  {"data": {"name": "steps"}, "transform": [{"filter": "datum.p == 'D'"}], "mark": {"type": "line", "interpolate": "step-after", "strokeWidth": 1.5},
   "encoding": {
    "x": {"field": "t", "type": "quantitative", "scale": {"domain": [0, 138], "nice": false}, "axis": {"values": [0,12,24,36,48,60,72,84,96,108,120,132], "title": "Time (mo)", "labelOverlap": false, "labelFlush": false, "labelPadding": 4, "titlePadding": 6}},
    "y": {"field": "s", "type": "quantitative", "scale": {"domain": [0, 1], "nice": false}, "axis": {"values": [0,0.2,0.4,0.6,0.8,1], "labelOverlap": false, "labelExpr": "datum.value == 0 ? '0' : format(datum.value, '.1f')", "title": "Overall survival", "labelPadding": 3, "titlePadding": 8}},
    "color": {"field": "g", "type": "nominal", "scale": {"domain": ["Low-risk", "Intermediate-risk", "High-risk"], "range": ["#4b69a0", "#c8505f", "#7bb14a"]}, "legend": {"title": null, "orient": "none", "legendX": 120, "legendY": -3.5, "symbolType": "stroke", "symbolSize": 676, "symbolStrokeWidth": 1.8, "clipHeight": 13, "rowPadding": 0, "labelOffset": 4, "padding": 0}}}},
  {"data": {"name": "cens"}, "transform": [{"filter": "datum.p == 'D'"}], "mark": {"type": "tick", "orient": "vertical", "size": 6, "thickness": 1.3, "opacity": 1},
   "encoding": {
    "x": {"field": "t", "type": "quantitative", "scale": {"domain": [0, 138], "nice": false}, "axis": {"values": [0,12,24,36,48,60,72,84,96,108,120,132], "title": "Time (mo)", "labelOverlap": false, "labelFlush": false, "labelPadding": 4, "titlePadding": 6}},
    "y": {"field": "s", "type": "quantitative", "scale": {"domain": [0, 1], "nice": false}, "axis": {"values": [0,0.2,0.4,0.6,0.8,1], "labelOverlap": false, "labelExpr": "datum.value == 0 ? '0' : format(datum.value, '.1f')", "title": "Overall survival", "labelPadding": 3, "titlePadding": 8}},
    "color": {"field": "g", "type": "nominal", "legend": null}}},
  {"data": {"values": [{}]}, "mark": {"type": "text", "align": "left", "baseline": "middle", "fontSize": 9.5},
   "encoding": {
    "x": {"datum": 5, "type": "quantitative", "scale": {"domain": [0, 138], "nice": false}, "axis": {"values": [0,12,24,36,48,60,72,84,96,108,120,132], "title": "Time (mo)", "labelOverlap": false, "labelFlush": false, "labelPadding": 4, "titlePadding": 6}},
    "y": {"datum": 0.095, "type": "quantitative", "scale": {"domain": [0, 1], "nice": false}, "axis": {"values": [0,0.2,0.4,0.6,0.8,1], "labelOverlap": false, "labelExpr": "datum.value == 0 ? '0' : format(datum.value, '.1f')", "title": "Overall survival", "labelPadding": 3, "titlePadding": 8}},
    "text": {"value": "Log-rank, p < 0.001"}}},
  {"data": {"values": [{}]}, "mark": {"type": "text", "align": "center", "baseline": "middle", "fontSize": 15, "fontWeight": "bold", "color": "#111"},
   "encoding": {
    "x": {"datum": 143.6, "type": "quantitative", "scale": {"domain": [0, 138], "nice": false}, "axis": {"values": [0,12,24,36,48,60,72,84,96,108,120,132], "title": "Time (mo)", "labelOverlap": false, "labelFlush": false, "labelPadding": 4, "titlePadding": 6}},
    "y": {"datum": 1.1, "type": "quantitative", "scale": {"domain": [0, 1], "nice": false}, "axis": {"values": [0,0.2,0.4,0.6,0.8,1], "labelOverlap": false, "labelExpr": "datum.value == 0 ? '0' : format(datum.value, '.1f')", "title": "Overall survival", "labelPadding": 3, "titlePadding": 8}},
    "text": {"value": "D"}}}
 ]
},
{
 "width": 221, "height": {"step": 19.5},
 "data": {"name": "risk"}, "transform": [{"filter": "datum.p == 'C'"}],
 "mark": {"type": "text", "fontSize": 11, "baseline": "middle"},
 "encoding": {
  "x": {"field": "t", "type": "quantitative", "scale": {"domain": [0, 138], "nice": false}, "axis": null},
  "y": {"field": "g", "type": "nominal", "sort": null, "scale": {"domain": ["No. at risk", "Group A", "Group B", "Group C", "Group D"]}, "axis": {"title": null, "domain": false, "ticks": false, "labelPadding": 22, "labelFontSize": 12.5}},
  "text": {"field": "n", "type": "quantitative"}
 }
},
{
 "width": 221, "height": {"step": 19.5},
 "data": {"name": "risk"}, "transform": [{"filter": "datum.p == 'D'"}],
 "mark": {"type": "text", "fontSize": 11, "baseline": "middle"},
 "encoding": {
  "x": {"field": "t", "type": "quantitative", "scale": {"domain": [0, 138], "nice": false}, "axis": null},
  "y": {"field": "g", "type": "nominal", "sort": null, "scale": {"domain": ["No. at risk", "Low-risk", "Intermediate-risk", "High-risk"]}, "axis": {"title": null, "domain": false, "ticks": false, "labelPadding": 22, "labelFontSize": 12.5}},
  "text": {"field": "n", "type": "quantitative"}
 }
}
]
}
